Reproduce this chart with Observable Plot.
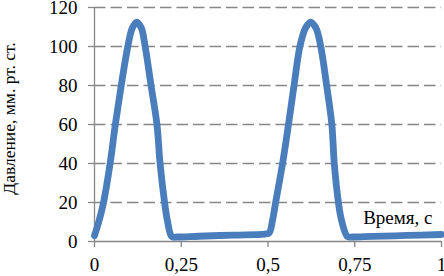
<!DOCTYPE html>
<html><head><meta charset="utf-8">
<script src="https://cdn.jsdelivr.net/npm/d3@7"></script>
<script src="https://cdn.jsdelivr.net/npm/@observablehq/plot@0.6"></script>
<style>
body{margin:0;background:#fff;}
</style></head><body><div id="chart"></div>
<script>
const time = [0,0.0135,0.026,0.045,0.06,0.077,0.096,0.109,0.122,0.135,0.146,0.163,0.18,0.189,0.202,0.21,0.223,
  0.24,0.3,0.4,0.49,0.503,
  0.513,0.522,0.542,0.559,0.575,0.592,0.608,0.623,0.638,0.652,0.669,0.684,0.691,0.703,0.712,0.729,
  0.745,0.8,0.9,1.0];
const pressure = [3,10.8,20,40,60,80,100,109.5,112.5,109.5,100,80,60,40,20,10.8,2.5,
  2.3,2.7,3.3,3.8,4.3,
  10.8,20,40,60,80,100,109.5,112.5,109.5,100,80,60,40,20,10.8,2.5,
  2.3,2.6,3.1,3.6];
const xTicks = [0,0.25,0.5,0.75,1];
const yTicks = [0,20,40,60,80,100,120];
const xLabel = "Время, с";
const yLabel = "Давление, мм. рт. ст.";

const data = time.map((t,i)=>({t, p: pressure[i]}));
const fmt = d => String(d).replace(".", ",");
const gray = "#868686";
const ff = "Liberation Serif";

const plot = Plot.plot({
  width: 444, height: 276,
  marginLeft: 94, marginRight: 3, marginTop: 7, marginBottom: 35,
  style: "font-family: 'Liberation Serif', serif; font-size: 19px; color: #000; background: #fff;",
  x: {domain: [0,1]},
  y: {domain: [0,120]},
  marks: [
    Plot.ruleY(yTicks.filter(d=>d>0), {stroke: gray, strokeWidth: 1.6, strokeDasharray: "11.5,5"}),
    Plot.ruleY([0], {stroke: gray, strokeWidth: 1.3}),
    Plot.ruleX([0], {stroke: gray, strokeWidth: 1.3}),
    Plot.axisY({ticks: yTicks, tickSize: 6, tickPadding: 11, stroke: gray, strokeWidth: 1.3, fill: "#000", label: null, fontSize: 19, fontFamily: ff}),
    Plot.axisX({ticks: xTicks, tickSize: 6, tickPadding: 10, tickFormat: fmt, stroke: gray, strokeWidth: 1.3, fill: "#000", label: null, fontSize: 19, fontFamily: ff}),
    Plot.line(data, {x: "t", y: "p", curve: "catmull-rom", stroke: "#4a7dbb", strokeWidth: 6.8, strokeLinejoin: "round", strokeLinecap: "round"}),
    Plot.text([xLabel], {frameAnchor: "bottom-right", textAnchor: "end", lineAnchor: "bottom", dx: -9, dy: -18, fontSize: 19, fontFamily: ff, fill: "#000"}),
    Plot.text([yLabel], {frameAnchor: "left", rotate: -90, textAnchor: "middle", lineAnchor: "top", dx: -92, dy: -6, fontSize: 17.5, fontFamily: ff, fill: "#000"})
  ]
});
document.getElementById("chart").appendChild(plot);
</script></body></html>
